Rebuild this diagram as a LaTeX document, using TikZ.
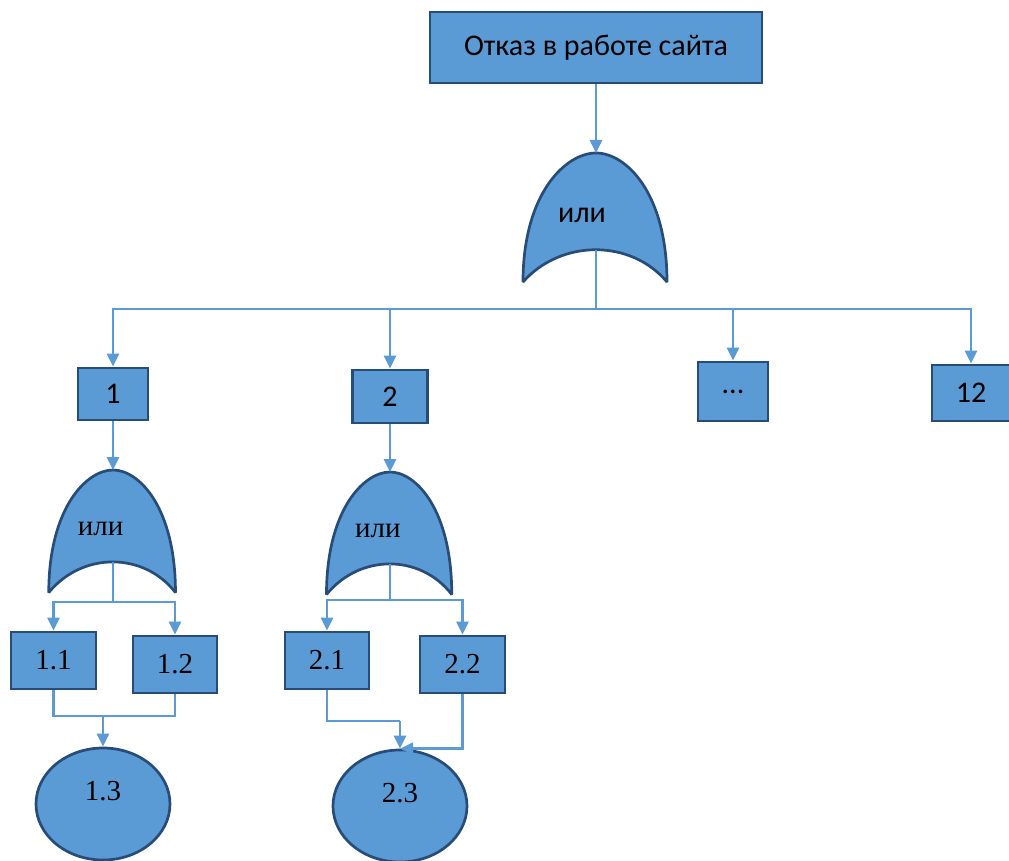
\documentclass[tikz,border=0pt]{standalone}
\usepackage{fontspec}
\setmainfont{Liberation Serif}
\setsansfont{Carlito}
\usetikzlibrary{arrows.meta,shapes.geometric}
\definecolor{boxblue}{RGB}{91,155,213}
\definecolor{boxedge}{RGB}{40,76,120}
\definecolor{linkblue}{RGB}{91,155,213}

\begin{document}
\begin{tikzpicture}[x=1pt, y=-1pt,
                every node/.style={font=\sffamily\fontsize{30}{36}\selectfont},
                box/.style={draw=boxedge, fill=boxblue, line width=2.7pt, inner sep=0pt},
                serif/.style={font=\rmfamily\fontsize{29}{34}\selectfont},
                sans/.style={},
                event/.style={ellipse, draw=boxedge, fill=boxblue, line width=2.7pt, inner sep=0pt,
                              minimum width=134pt, minimum height=112pt, serif,
                              text height=20pt, text depth=28pt},
                gate/.style={draw=boxedge, fill=boxblue, line width=2.7pt, line join=bevel},
                link/.style={draw=linkblue, line width=2.7pt},
                conn/.style={link, -{Triangle[length=13pt,width=12pt]}},
                orgate/.pic={
                    \path[gate] (0,0) .. controls (-30,0) and (-73,40) .. (-73,129)
                                .. controls (-35,86) and (35,86) .. (71,129)
                                .. controls (71,40) and (30,0) .. (0,0) -- cycle;
                    \coordinate (-top) at (0,0);
                    \coordinate (-bot) at (0,97);
                    \node[#1] (-t) at (-14,62) {или};
                }]

                \useasboundingbox (0,0) rectangle (1009,861);

                % top event and first gate
                \node[box, minimum width=332pt, minimum height=71pt] (fail) at (596,47.5) {Отказ в работе сайта};
                \pic (g0) at (596,153) {orgate=sans};

                \node[box, minimum width=70pt, minimum height=52pt] (ev1) at (113,394) {1};
                \node[box, minimum width=75pt, minimum height=53pt] (ev2) at (390,396.5) {2};
                \node[box, minimum width=70pt, minimum height=59pt] (evdots) at (733,391.5) {...};
                \node[box, minimum width=78pt, minimum height=56pt] (ev12) at (971,393) {12};

                % second level
                \pic[xscale=0.88, yscale=0.95] (g1) at (113,470) {orgate=serif};
                \pic[xscale=0.87, yscale=0.95] (g2) at (390,472) {orgate=serif};

                \node[box, serif, minimum width=85pt, minimum height=57pt] (s11) at (53.5,660.5) {1.1};
                \node[box, serif, minimum width=84pt, minimum height=57pt] (s12) at (175,664.5) {1.2};
                \node[box, serif, minimum width=84pt, minimum height=57pt] (s21) at (327,660.5) {2.1};
                \node[box, serif, minimum width=85pt, minimum height=57pt] (s22) at (462.5,664.5) {2.2};

                \node[event] (s13) at (103,804) {1.3};
                \node[event] (s23) at (400,806) {2.3};

                \coordinate (j0) at (596,309);
                \coordinate (j1) at (113,602);
                \coordinate (j2) at (390,600);
                \coordinate (j13) at (103,716);
                \coordinate (j23) at (400,721);

                \path [conn] (fail) -- (g0-top);
                \path [link] (g0-bot) -- (j0);
                \path [conn] (j0) -| (ev1);
                \path [conn] (j0) -| (ev2);
                \path [conn] (j0) -| (evdots);
                \path [conn] (j0) -| (ev12);

                \path [conn] (ev1) -- (g1-top);
                \path [conn] (ev2) -- (g2-top);

                \path [link] (g1-bot) -- (j1);
                \path [conn] (j1) -| (s11);
                \path [conn] (j1) -| (s12);
                \path [link] (g2-bot) -- (j2);
                \path [conn] (j2) -| (s21);
                \path [conn] (j2) -| (s22);

                \path [link] (s11) |- (j13);
                \path [link] (s12) |- (j13);
                \path [conn] (j13) -- (s13);
                \path [link] (s21) |- (j23);
                \path [conn] (j23) -- (s23);
                \path [conn] (s22) |- (s23.north);
            \end{tikzpicture}
\end{document}
